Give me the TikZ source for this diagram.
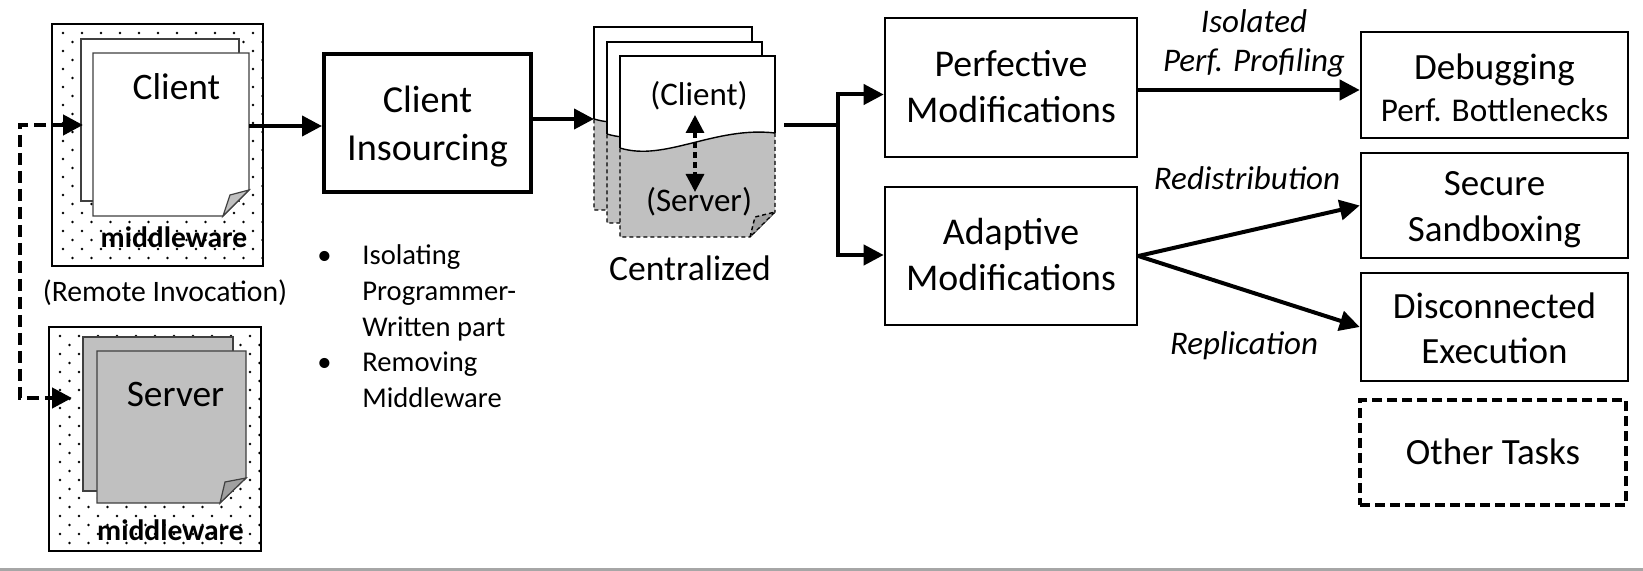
\documentclass[tikz,border=0pt]{standalone}
\usepackage{fontspec}
\setmainfont{Carlito}
\usetikzlibrary{arrows.meta}
\definecolor{pgray}{HTML}{C0C0C0}
\definecolor{fgray}{HTML}{A0A0A0}
\newcommand\stkpage[4]{%
 \fill[white] (#1,#2) -- (#3,#2) -- (#3,{#2+77}) .. controls ({#1+0.61*(#3-#1)},{#2+70}) and ({#1+0.29*(#3-#1)},{#2+106}) .. (#1,{#2+92}) -- cycle;
 \fill[pgray] (#1,{#2+92}) .. controls ({#1+0.29*(#3-#1)},{#2+106}) and ({#1+0.61*(#3-#1)},{#2+70}) .. (#3,{#2+77}) -- (#3,{#4-25}) -- ({#3-25},#4) -- (#1,#4) -- cycle;
 \draw[stk] (#1,{#2+92}) -- (#1,#2) -- (#3,#2) -- (#3,{#2+77});
 \draw[stk] (#1,{#2+92}) .. controls ({#1+0.29*(#3-#1)},{#2+106}) and ({#1+0.61*(#3-#1)},{#2+70}) .. (#3,{#2+77});
 \draw[stk, dash pattern=on 2pt off 1.5pt] (#3,{#2+77}) -- (#3,{#4-25}) -- ({#3-25},#4) -- (#1,#4) -- (#1,{#2+92});
 \draw[stk, dash pattern=on 2pt off 1.5pt, fill=fgray] ({#3-25},#4) -- ({#3-20},{#4-20}) -- (#3,{#4-25}) -- cycle;
}
\begin{document}
\begin{tikzpicture}[x=0.5pt,y=-0.5pt, line join=miter,
  box/.style={draw, line width=1.3pt, inner sep=0pt, fill=white},
  arr/.style={line width=2pt, -{Triangle[length=10pt,width=10pt]}},
  lbl/.style={inner sep=0pt, anchor=base},
  pageline/.style={line width=0.6pt, draw=black!75},
  stk/.style={line width=0.7pt, draw=black},
  mw/.style={lbl, font=\bfseries\fontsize{14.8}{17}\selectfont},
  pagetxt/.style={lbl, font=\fontsize{18.7}{22}\selectfont},
  lab/.style={lbl, font=\itshape\fontsize{16.5}{19.5}\selectfont},
  modfont/.style={font=\fontsize{18.9}{23}\selectfont},
  taskfont/.style={font=\fontsize{18.5}{#1}\selectfont}]
\fill[white] (0,0) rectangle (1643,571);
\useasboundingbox (0,0) rectangle (1643,571);
\draw[black!35, line width=1.2pt] (0,569.5) -- (1643,569.5);

% ---------- client with middleware
\begin{scope}
\clip (52,24) rectangle (263,266);
\foreach \i in {0,...,11}{\foreach \j in {0,...,13}{
 \fill ({63+\i*19},{33+\j*18}) circle[radius=0.7pt];
 \fill ({72.5+\i*19},{42+\j*18}) circle[radius=0.7pt];}}
\end{scope}
\draw[line width=1.3pt] (52,24) rectangle (263,266);
\draw[pageline, fill=white] (81,39) rectangle (239,201);
\draw[pageline, fill=white] (93,53) -- (249,53) -- (249,190) -- (223,216) -- (93,216) -- cycle;
\draw[pageline, fill=pgray] (223,216) -- (249,190) -- (230,195) -- cycle;
\node[pagetxt] (clientlbl) at (176.5,100) {Client};
\node[mw] (mw1) at (174,248) {middleware};
\coordinate (clientout) at (249,126);
\coordinate (clientin) at (83,125);

\node[lbl, font=\fontsize{14.85}{16}\selectfont] (remote) at (165,302) {(Remote Invocation)};

% ---------- server with middleware
\begin{scope}
\clip (49,327) rectangle (261,551);
\foreach \i in {0,...,11}{\foreach \j in {0,...,13}{
 \fill ({60+\i*19},{336+\j*18}) circle[radius=0.7pt];
 \fill ({69.5+\i*19},{345+\j*18}) circle[radius=0.7pt];}}
\end{scope}
\draw[line width=1.3pt] (49,327) rectangle (261,551);
\draw[pageline, fill=pgray] (83,337) rectangle (233,491);
\draw[pageline, fill=pgray] (97,351) -- (246,351) -- (246,478) -- (220,503) -- (97,503) -- cycle;
\draw[pageline, fill=fgray] (220,503) -- (246,478) -- (225,482) -- cycle;
\node[pagetxt] (serverlbl) at (175.5,407) {Server};
\node[mw] (mw2) at (170.5,540) {middleware};
\coordinate (serverin) at (72,398);

\draw[line width=2.2pt, dash pattern=on 6pt off 3pt,
  {Triangle[length=10pt,width=10pt]}-{Triangle[length=10pt,width=10pt]}]
  (clientin) -- (20,125) -- (20,398) -- (serverin);

% ---------- client insourcing
\node[box, line width=2pt, minimum width=103.5pt, minimum height=69pt,
  font=\fontsize{19.1}{24}\selectfont, text height=0pt, text depth=10pt]
  (ci) at (427.5,123) {\begin{tabular}[t]{@{}c@{}}Client\\Insourcing\end{tabular}};

\node[anchor=base west, inner sep=0pt, font=\fontsize{14.3}{17.8}\selectfont] (bullets) at (312,265)
 {\begin{tabular}[t]{@{}p{25pt}@{}l@{}}\hspace{2.5pt}\textbullet & Isolating\\ & Programmer-\\ & Written part\\ \hspace{2.5pt}\textbullet & Removing\\ & Middleware\end{tabular}};

% ---------- centralized stack
\stkpage{594}{27}{752}{210}
\stkpage{607}{42}{762}{223}
\stkpage{620}{56}{775}{237}
\node[lbl, font=\fontsize{16.5}{19}\selectfont] (stc) at (699,106) {(Client)};
\node[lbl, font=\fontsize{16.5}{19}\selectfont] (sts) at (699,212) {(Server)};
\coordinate (dA) at (695,115);
\coordinate (dB) at (695,192);
\draw[line width=1.6pt, dash pattern=on 3pt off 2pt,
  {Triangle[length=9pt,width=9pt]}-{Triangle[length=9pt,width=9pt]}] (dA) -- (dB);
\node[lbl, font=\fontsize{17.8}{20}\selectfont] (central) at (690,281) {Centralized};
\coordinate (stkin) at (594,119);
\coordinate (stkout) at (784,125);
\coordinate (br) at (838,125);

% ---------- modification boxes
\node[box, modfont, minimum width=126pt, minimum height=69.5pt, text height=0pt, text depth=10.5pt]
  (perf) at (1011,87.5) {\begin{tabular}[t]{@{}c@{}}Perfective\\Modifications\end{tabular}};
\node[box, modfont, minimum width=126pt, minimum height=69pt, text height=0pt, text depth=11pt]
  (adap) at (1011,256) {\begin{tabular}[t]{@{}c@{}}Adaptive\\Modifications\end{tabular}};

% ---------- task boxes
\node[box, taskfont=21, minimum width=133.5pt, minimum height=53pt, text height=0pt, text depth=5pt]
  (debug) at (1494.5,85) {\begin{tabular}[t]{@{}c@{}}Debugging\\{\fontsize{16.6}{21}\selectfont Perf. Bottlenecks}\end{tabular}};
\node[box, taskfont=23, minimum width=133.5pt, minimum height=52.5pt, text height=0pt, text depth=10pt]
  (secure) at (1494.5,205.5) {\begin{tabular}[t]{@{}c@{}}Secure\\Sandboxing\end{tabular}};
\node[box, taskfont=22.5, minimum width=133.5pt, minimum height=54pt, text height=0pt, text depth=8pt]
  (disc) at (1494.5,327) {\begin{tabular}[t]{@{}c@{}}Disconnected\\Execution\end{tabular}};
\node[box, taskfont=20, line width=1.6pt, dash pattern=on 5pt off 2.5pt,
  minimum width=133pt, minimum height=52.5pt, text height=12.5pt, text depth=0pt]
  (other) at (1493,452.5) {Other Tasks};

% ---------- connectors
\draw[arr] (clientout) -- (clientout -| ci.west);
\draw[arr] (ci.east |- stkin) -- (stkin);
\draw[line width=2pt] (stkout) -- (br);
\draw[arr] (br) |- ([yshift=-3.5pt]perf.west);
\draw[arr] (br) |- ([yshift=0.5pt]adap.west);
\coordinate (pe) at ([yshift=-1.25pt]perf.east);
\draw[arr] (pe) -- (pe -| debug.west);
\draw[arr] (adap.east) -- (secure.west);
\draw[arr] (adap.east) -- (disc.west);

% ---------- connector labels
\node[lab] (lprof) at (1254,33) {\begin{tabular}[t]{@{}c@{}}Isolated\\Perf. Profiling\end{tabular}};
\node[lab] (lredis) at (1247,190) {Redistribution};
\node[lab] (lrepl) at (1244,355) {Replication};
\end{tikzpicture}
\end{document}
